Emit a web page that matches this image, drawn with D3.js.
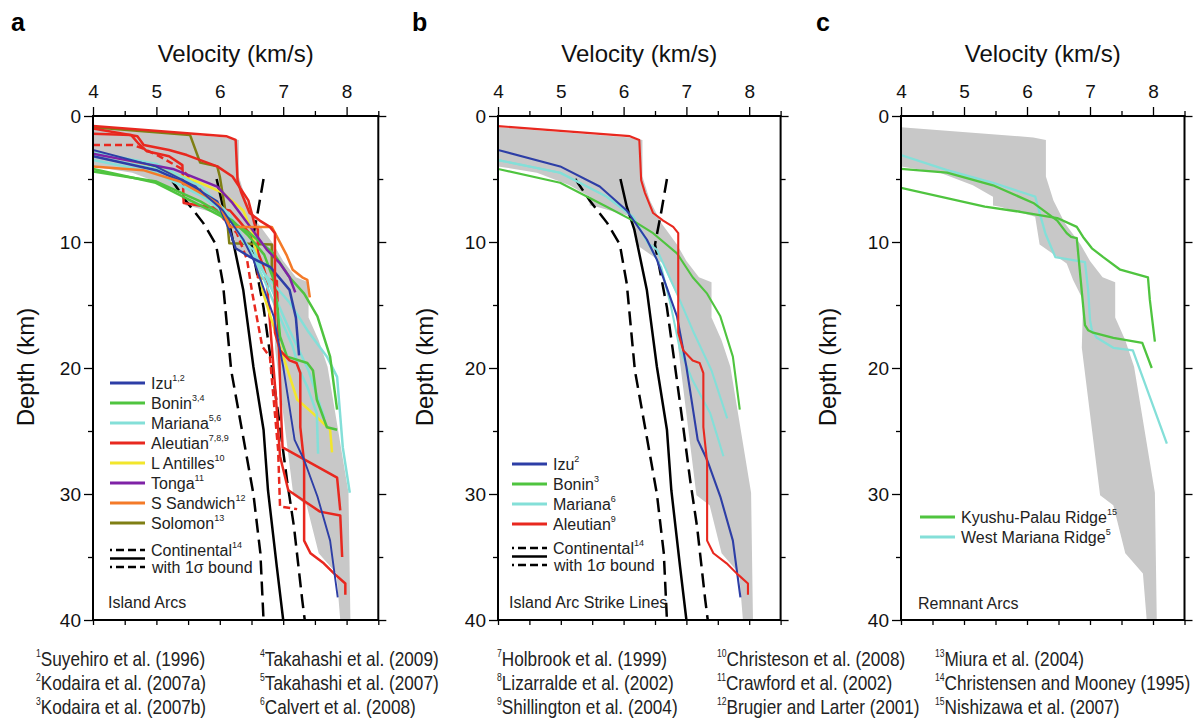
<!DOCTYPE html>
<html>
<head>
<meta charset="utf-8">
<script src="https://cdn.jsdelivr.net/npm/d3@7"></script>
<style>
  body { margin: 0; background: #fff; }
</style>
</head>
<body>
<script>
// every profile is a list of [velocity (km/s), depth (km)]

// grey envelope of all island arc profiles
const envelope = [
  [4.0, 0.9], [6.1, 1.7], [6.3, 1.9], [6.3, 4.8], [6.42, 6.7], [6.6, 8.5], [6.85, 10.2],
  [7.0, 11.5], [7.2, 12.8], [7.4, 13.2], [7.4, 16], [7.56, 17.8], [7.7, 19.9], [8.03, 29.9],
  [8.06, 40], [7.9, 40], [7.84, 36.3], [7.56, 34.7], [7.37, 30.9], [7.16, 30.1], [6.87, 18.4],
  [6.89, 14.6], [6.73, 13], [6.63, 11.7], [6.2, 10.2], [6.13, 8], [5.57, 7.2], [5.46, 7.1],
  [5.46, 6.4], [5.14, 5.5], [4.62, 4.5], [4.0, 4.0]
];

// continental average and 1 sigma bounds
const contMean = [[5.95, 5], [6.05, 7.2], [6.17, 9], [6.22, 10.2], [6.37, 13.8], [6.53, 19.9], [6.69, 24.9], [6.76, 29.7], [6.9, 35.8], [7.0, 40]];
const contLow = [[5.23, 5], [5.46, 6.7], [5.74, 8.5], [5.94, 10.2], [6.05, 13.3], [6.18, 20.2], [6.37, 25.5], [6.53, 30], [6.64, 34.7], [6.69, 40]];
const contHigh = [[6.69, 5], [6.6, 7.6], [6.5, 10.2], [6.69, 15.2], [6.82, 19.9], [6.95, 24.7], [7.06, 28.9], [7.17, 32.6], [7.3, 38.4], [7.34, 40]];

// strike line profiles (panel b, also in a)
const izuStrike = [[4, 2.7], [4.99, 4.0], [5.62, 5.6], [6.05, 7.5], [6.37, 9.8], [6.53, 11.4], [6.85, 15.9], [7.0, 19.9], [7.18, 25.7], [7.33, 27.3], [7.54, 30.2], [7.74, 33.7], [7.86, 38.2]];
const boninStrike = [[4, 4.2], [4.99, 5.3], [5.73, 7.2], [6.15, 8.3], [6.47, 9.3], [6.85, 10.9], [7.1, 12.8], [7.33, 14.1], [7.54, 15.9], [7.74, 19.1], [7.85, 23.3]];
const marianaStrike1 = [[4, 3.5], [4.99, 4.5], [5.73, 6.4], [6.15, 8], [6.39, 10.1], [6.53, 10.6], [6.85, 14.1], [7.1, 17], [7.4, 20.2], [7.65, 24]];
const marianaStrike2 = [[4, 3.5], [4.99, 4.5], [5.73, 6.4], [6.15, 8], [6.39, 10.1], [6.6, 12], [6.75, 15], [6.9, 18.6], [7.1, 21], [7.38, 23.6], [7.59, 27]];
const aleutianStrike = [[4, 0.8], [6.1, 1.6], [6.25, 1.9], [6.28, 5.1], [6.34, 6.1], [6.47, 7.7], [6.63, 8.3], [6.79, 8.8], [6.87, 9.3], [6.87, 17.2], [6.95, 18.6], [7.1, 19.4], [7.21, 19.6], [7.27, 20.4], [7.27, 24.7], [7.33, 27.5], [7.33, 33.7], [7.43, 34.7], [7.64, 35.5], [7.8, 36.3], [7.98, 37.1], [7.98, 38]];

// extra island arc profiles (panel a)
const izu2 = [[4, 3.2], [5.0, 4.3], [5.5, 5.4], [5.96, 6.8], [6.15, 9], [6.25, 10.5], [6.48, 11.2], [6.8, 12], [7.1, 13.8], [7.2, 16], [7.25, 19]];
const bonin2 = [[4, 4.4], [5.0, 5.2], [5.7, 6.8], [6.2, 8.3], [6.45, 9.5], [6.7, 11], [6.85, 13], [6.9, 14.8], [6.95, 17.5], [7.06, 19.1], [7.38, 19.6], [7.47, 20.2], [7.53, 22.5], [7.69, 24.7], [7.85, 24.9]];
const mariana3 = [[4, 2.9], [5.0, 3.8], [5.7, 5.6], [6.15, 7.8], [6.4, 10], [6.7, 12.5], [7.1, 14.8], [7.38, 17], [7.69, 19.1], [7.85, 20.7], [7.94, 26.3], [8.05, 29.9]];
const mariana4 = [[4, 3.2], [5.0, 4.2], [5.75, 6.2], [6.2, 8.3], [6.45, 10.5], [6.7, 13], [6.95, 16], [7.15, 18.3], [7.26, 20.2], [7.38, 21.5], [7.53, 23.6], [7.55, 26.8]];
const aleutian2 = [[4, 1.0], [4.7, 1.6], [4.8, 2.3], [5.2, 2.7], [5.48, 3.1], [5.96, 4.0], [6.2, 4.8], [6.45, 6.7], [6.55, 8.6], [6.6, 9], [6.6, 12.8], [6.9, 13.1], [6.93, 18], [6.97, 24], [6.99, 26.3], [7.85, 28.7], [7.9, 31.3]];
const aleutian3 = [[4, 1.4], [4.6, 1.5], [4.72, 2.2], [4.85, 2.8], [5.2, 3.2], [5.41, 3.9], [5.43, 6.9], [6.16, 7.5], [6.3, 8.3], [6.5, 9.5], [6.67, 11.7], [6.74, 12.9], [6.8, 17], [6.88, 22], [6.95, 27], [7.08, 29.7], [7.58, 31.4], [7.9, 31.7], [7.93, 35]];
const aleutian4 = [[4, 2.3], [4.63, 2.3], [4.8, 2.6], [5.05, 3.2], [5.4, 4.2], [5.8, 6.5], [6.08, 8.3], [6.27, 9.3], [6.43, 11.4], [6.51, 14], [6.67, 18.3], [6.79, 19.1], [6.92, 26.5], [6.95, 31], [7.22, 31.2]];
const antilles = [[4, 2.9], [4.9, 3.9], [5.69, 5.3], [6.05, 6.1], [6.37, 7.5], [6.52, 9.3], [6.59, 11.4], [6.68, 14], [6.95, 18.3], [7.22, 22.5], [7.47, 23.6], [7.74, 24.9], [7.77, 26.7]];
const tonga = [[4, 3.0], [4.63, 3.6], [5.26, 4.2], [5.96, 5.6], [6.2, 6.9], [6.48, 8.8], [6.74, 10.6], [6.95, 11.7], [7.1, 12.8], [7.19, 14]];
const sandwich = [[4, 4.0], [4.79, 4.3], [5.37, 5.2], [5.8, 6.4], [6.0, 7.1], [6.16, 8.8], [6.82, 8.8], [7.05, 11], [7.15, 12.2], [7.3, 12.8], [7.38, 13], [7.42, 14.4]];
const solomon = [[4, 0.9], [5.53, 1.5], [5.69, 3.7], [5.96, 4.0], [6.0, 4.8], [6.12, 8.5], [6.15, 10.1], [6.82, 10.2], [6.82, 12], [6.9, 14.6]];

// remnant arc profiles (panel c)
const kyushu1 = [[4.0, 4.2], [4.73, 4.5], [5.46, 5.5], [6.1, 6.9], [6.48, 8.3], [6.63, 9.3], [6.7, 9.6], [6.79, 9.7], [6.92, 16.6], [6.97, 17], [7.05, 17.2], [7.37, 17.6], [7.83, 18], [7.98, 20]];
const kyushu2 = [[4.0, 5.7], [5.33, 7.2], [5.89, 7.6], [6.48, 8.1], [6.79, 8.8], [6.89, 9.6], [7.03, 10.5], [7.21, 11.2], [7.48, 12.2], [7.92, 12.8], [7.95, 14.6], [8.03, 17.9]];
const westMariana = [[4.0, 3.1], [4.73, 4.3], [5.46, 5.3], [6.13, 6.4], [6.29, 9.3], [6.45, 11.2], [6.92, 11.6], [6.97, 13.8], [7.0, 16.2], [7.03, 17], [7.11, 17.6], [7.37, 18.4], [7.68, 18.6], [8.22, 26]];

// axis ticks
const velMajor = [4, 5, 6, 7, 8];
const velMinor = [4.5, 5.5, 6.5, 7.5, 8.5];
const depthMajor = [0, 10, 20, 30, 40];
const depthMinor = [5, 15, 25, 35];

// legend entries: [name, superscript]
const legendA = [["Izu", "1,2"], ["Bonin", "3,4"], ["Mariana", "5,6"], ["Aleutian", "7,8,9"], ["L Antilles", "10"], ["Tonga", "11"], ["S Sandwich", "12"], ["Solomon", "13"]];
const legendB = [["Izu", "2"], ["Bonin", "3"], ["Mariana", "6"], ["Aleutian", "9"]];
const legendC = [["Kyushu-Palau Ridge", "15"], ["West Mariana Ridge", "5"]];

// reference list, one array per column
const refCol1 = [["1", "Suyehiro et al. (1996)"], ["2", "Kodaira et al. (2007a)"], ["3", "Kodaira et al. (2007b)"]];
const refCol2 = [["4", "Takahashi et al. (2009)"], ["5", "Takahashi et al. (2007)"], ["6", "Calvert et al. (2008)"]];
const refCol3 = [["7", "Holbrook et al. (1999)"], ["8", "Lizarralde et al. (2002)"], ["9", "Shillington et al. (2004)"]];
const refCol4 = [["10", "Christeson et al. (2008)"], ["11", "Crawford et al. (2002)"], ["12", "Brugier and Larter (2001)"]];
const refCol5 = [["13", "Miura et al. (2004)"], ["14", "Christensen and Mooney (1995)"], ["15", "Nishizawa et al. (2007)"]];

const FONT = "'Liberation Sans', Arial, Helvetica, sans-serif";
const colors = {
  izu: "#2d3ea6", bonin: "#4fc43f", mariana: "#84dfd8", aleutian: "#e8281f",
  antilles: "#f2e62c", tonga: "#7f22a6", sandwich: "#f47a28", solomon: "#7f7f14", grey: "#c8c8c8"
};
const legendColorsA = [colors.izu, colors.bonin, colors.mariana, colors.aleutian, colors.antilles, colors.tonga, colors.sandwich, colors.solomon];
const legendColorsB = [colors.izu, colors.bonin, colors.mariana, colors.aleutian];
const legendColorsC = [colors.bonin, colors.mariana];

const svg = d3.select("body").append("svg")
  .attr("width", 1201)
  .attr("height", 718)
  .style("font-family", FONT);

const top0 = 116, bottom0 = 620;

const panels = [
  {
    letter: "a", letterX: 11, left: 93, kmPx: 63.4, depthX: 34, width: 2.5,
    lines: [
      { d: solomon, c: colors.solomon },
      { d: aleutian4, c: colors.aleutian, dash: "7,4" },
      { d: aleutian2, c: colors.aleutian },
      { d: aleutian3, c: colors.aleutian },
      { d: antilles, c: colors.antilles },
      { d: mariana3, c: colors.mariana },
      { d: mariana4, c: colors.mariana },
      { d: marianaStrike1, c: colors.mariana },
      { d: bonin2, c: colors.bonin },
      { d: boninStrike, c: colors.bonin },
      { d: izu2, c: colors.izu },
      { d: tonga, c: colors.tonga },
      { d: sandwich, c: colors.sandwich },
      { d: aleutianStrike, c: colors.aleutian },
      { d: izuStrike, c: colors.izu, w: 1.9 }
    ],
    legend: legendA, legendColors: legendColorsA, legX: 110, legY: 383,
    contY: 550, note: "Island Arcs", noteX: 108, noteY: 608, continental: true
  },
  {
    letter: "b", letterX: 412, left: 498, kmPx: 62.8, depthX: 433, width: 2.1,
    lines: [
      { d: marianaStrike1, c: colors.mariana },
      { d: marianaStrike2, c: colors.mariana },
      { d: boninStrike, c: colors.bonin },
      { d: izuStrike, c: colors.izu },
      { d: aleutianStrike, c: colors.aleutian }
    ],
    legend: legendB, legendColors: legendColorsB, legX: 512, legY: 464,
    contY: 548, note: "Island Arc Strike Lines", noteX: 509, noteY: 608, continental: true
  },
  {
    letter: "c", letterX: 816, left: 901, kmPx: 63, depthX: 836, width: 2.3,
    lines: [
      { d: westMariana, c: colors.mariana },
      { d: kyushu1, c: colors.bonin },
      { d: kyushu2, c: colors.bonin }
    ],
    legend: legendC, legendColors: legendColorsC, legX: 920, legY: 517,
    note: "Remnant Arcs", noteX: 918, noteY: 609, continental: false
  }
];

panels.forEach(drawPanel);
drawReferences();

function drawPanel(p) {
  const x = d3.scaleLinear().domain([4, 8.5]).range([p.left, p.left + p.kmPx * 4.5]);
  const y = d3.scaleLinear().domain([0, 40]).range([top0, bottom0]);
  const line = d3.line().x(d => x(d[0])).y(d => y(d[1]));
  const g = svg.append("g");
  const x0 = x(4), x1 = x(8.5);

  // clip to the frame
  const clipId = "clip-" + p.letter;
  svg.append("clipPath").attr("id", clipId)
    .append("rect").attr("x", x0).attr("y", top0).attr("width", x1 - x0).attr("height", bottom0 - top0);
  const plot = g.append("g").attr("clip-path", `url(#${clipId})`);

  plot.append("path")
    .attr("d", line(envelope) + "Z")
    .attr("fill", colors.grey);

  if (p.continental) {
    [[contLow, "14,7"], [contMean, null], [contHigh, "14,7"]].forEach(([d, dash]) => {
      plot.append("path")
        .attr("d", line(d))
        .attr("fill", "none")
        .attr("stroke", "#000")
        .attr("stroke-width", 2.5)
        .attr("stroke-dasharray", dash);
    });
  }

  p.lines.forEach(s => {
    plot.append("path")
      .attr("d", line(s.d))
      .attr("fill", "none")
      .attr("stroke", s.c)
      .attr("stroke-width", s.w || p.width)
      .attr("stroke-linejoin", "round")
      .attr("stroke-dasharray", s.dash || null);
  });

  // axes
  const styleAxis = sel => {
    sel.select(".domain").remove();
    sel.selectAll("line").attr("stroke", "#000").attr("stroke-width", 1.3);
    sel.selectAll("text").attr("font-size", 19).attr("font-family", FONT).attr("fill", "#111");
  };
  g.append("g").attr("transform", `translate(0,${top0})`)
    .call(d3.axisTop(x).tickValues(velMajor).tickSize(9).tickPadding(9).tickFormat(d3.format("d")))
    .call(styleAxis);
  g.append("g").attr("transform", `translate(0,${top0})`)
    .call(d3.axisTop(x).tickValues(velMinor).tickSize(5).tickFormat(""))
    .call(styleAxis);
  g.append("g").attr("transform", `translate(0,${bottom0})`)
    .call(d3.axisBottom(x).tickValues(velMajor.concat(velMinor)).tickSize(5).tickFormat(""))
    .call(styleAxis);
  g.append("g").attr("transform", `translate(${x0},0)`)
    .call(d3.axisLeft(y).tickValues(depthMajor).tickSize(9).tickPadding(3))
    .call(styleAxis);
  g.append("g").attr("transform", `translate(${x0},0)`)
    .call(d3.axisLeft(y).tickValues(depthMinor).tickSize(5).tickFormat(""))
    .call(styleAxis);
  g.append("g").attr("transform", `translate(${x1},0)`)
    .call(d3.axisRight(y).tickValues(depthMajor).tickSize(8).tickFormat(""))
    .call(styleAxis);
  g.append("g").attr("transform", `translate(${x1},0)`)
    .call(d3.axisRight(y).tickValues(depthMinor).tickSize(5).tickFormat(""))
    .call(styleAxis);

  g.append("rect")
    .attr("x", x0).attr("y", top0)
    .attr("width", x1 - x0).attr("height", bottom0 - top0)
    .attr("fill", "none").attr("stroke", "#000").attr("stroke-width", 2);

  // titles
  g.append("text")
    .attr("x", p.letterX).attr("y", 31)
    .attr("font-size", 25).attr("font-weight", "bold")
    .text(p.letter);
  g.append("text")
    .attr("x", (x0 + x1) / 2).attr("y", 62)
    .attr("text-anchor", "middle").attr("font-size", 24).attr("fill", "#111")
    .text("Velocity (km/s)");
  g.append("text")
    .attr("transform", `translate(${p.depthX},367) rotate(-90)`)
    .attr("text-anchor", "middle").attr("font-size", 24).attr("fill", "#111")
    .text("Depth (km)");

  // legend
  p.legend.forEach((e, i) => {
    const ly = p.legY + i * 20;
    g.append("line")
      .attr("x1", p.legX).attr("x2", p.legX + 35)
      .attr("y1", ly).attr("y2", ly)
      .attr("stroke", p.legendColors[i]).attr("stroke-width", 3);
    const t = g.append("text")
      .attr("x", p.legX + 41).attr("y", ly + 6)
      .attr("font-size", 16).attr("fill", "#222");
    t.append("tspan").text(e[0]);
    t.append("tspan").attr("dy", -8).attr("font-size", 9).text(e[1]);
  });

  if (p.continental) {
    const cy = p.contY;
    [[cy, "8,4"], [cy + 8.5, null], [cy + 17, "8,4"]].forEach(([ly, dash]) => {
      g.append("line")
        .attr("x1", p.legX).attr("x2", p.legX + 35)
        .attr("y1", ly).attr("y2", ly)
        .attr("stroke", "#000").attr("stroke-width", 2.6)
        .attr("stroke-dasharray", dash)
        .attr("stroke-dashoffset", dash ? 6 : null);
    });
    const t = g.append("text")
      .attr("x", p.legX + 41).attr("y", cy + 6)
      .attr("font-size", 16).attr("fill", "#222");
    t.append("tspan").text("Continental");
    t.append("tspan").attr("dy", -8).attr("font-size", 9).text("14");
    g.append("text")
      .attr("x", p.legX + 42).attr("y", cy + 23)
      .attr("font-size", 16).attr("fill", "#222")
      .text("with 1\u03c3 bound");
  }

  g.append("text")
    .attr("x", p.noteX).attr("y", p.noteY)
    .attr("font-size", 16).attr("fill", "#222")
    .text(p.note);
}

function drawReferences() {
  const cols = [refCol1, refCol2, refCol3, refCol4, refCol5];
  const colX = [36, 260, 497, 717, 935];
  const rowY = [666, 690, 714];
  cols.forEach((col, ci) => {
    col.forEach((r, ri) => {
      // condensed lettering, as in the original figure
      const t = svg.append("text")
        .attr("transform", `translate(${colX[ci]},${rowY[ri]}) scale(0.86,1)`)
        .attr("font-size", 20).attr("fill", "#222");
      t.append("tspan").attr("font-size", 10).attr("dy", -9).text(r[0]);
      t.append("tspan").attr("dy", 9).text(r[1]);
    });
  });
}
</script>
</body>
</html>
